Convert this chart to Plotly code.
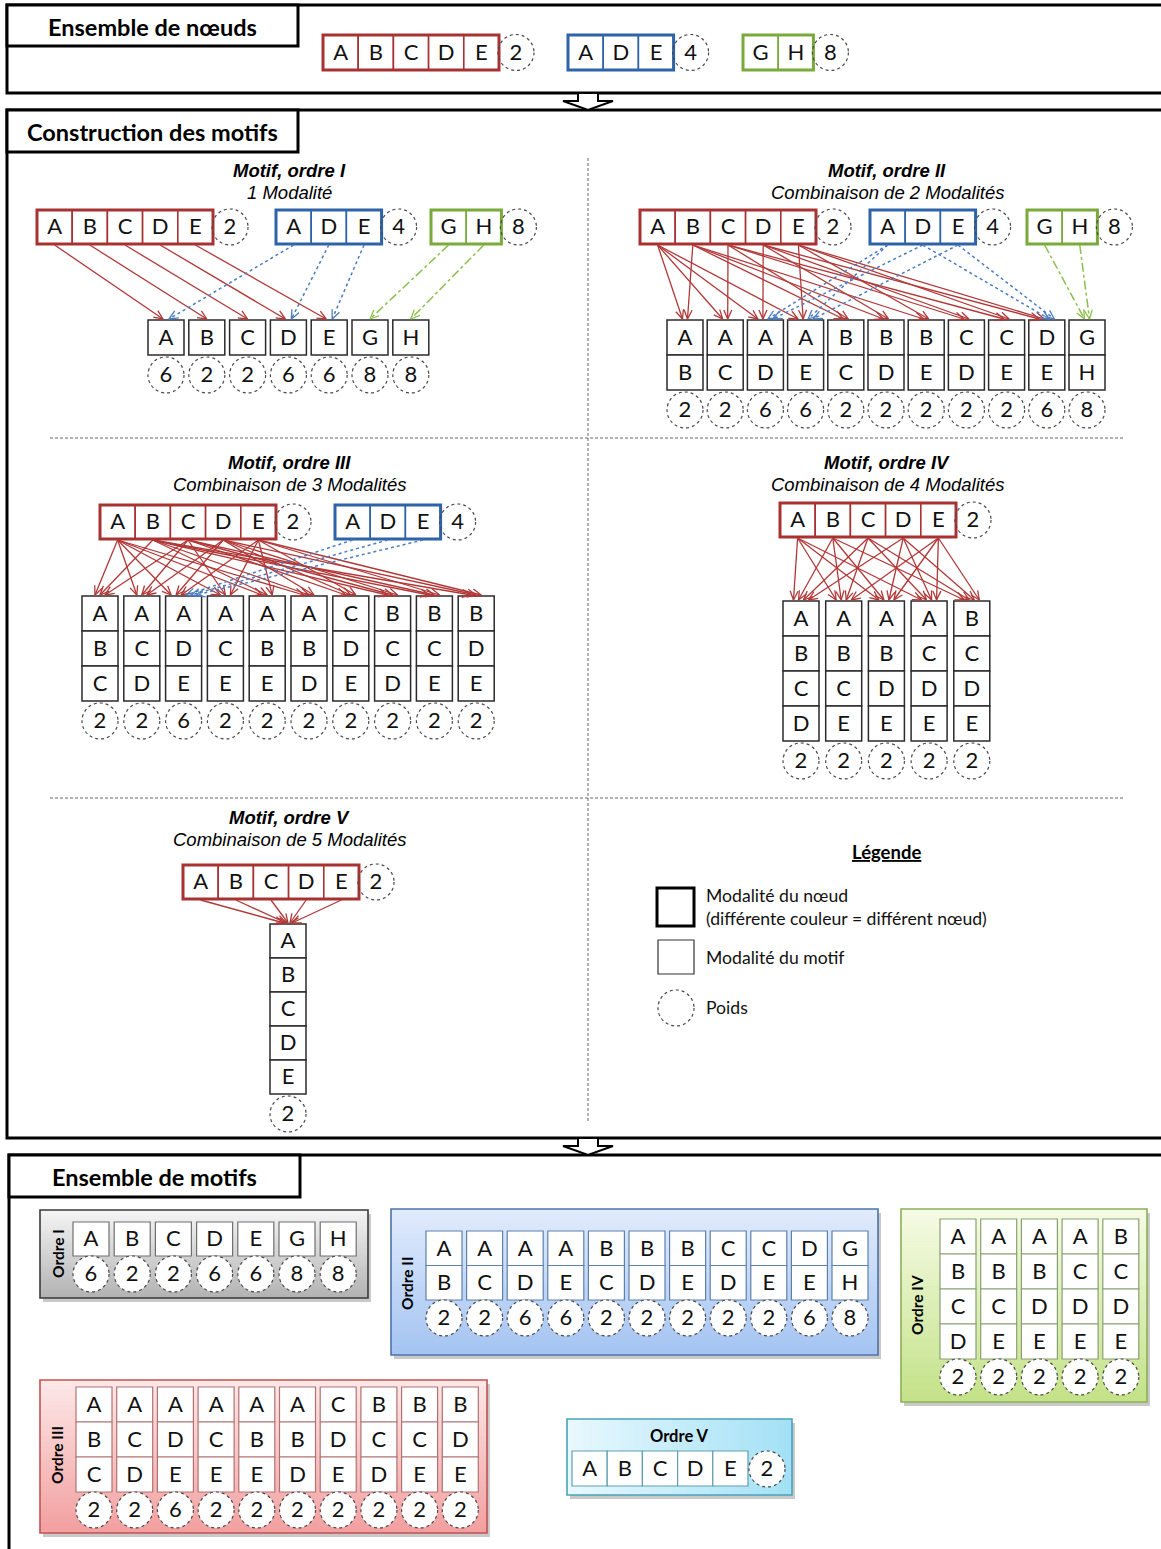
import math
import plotly.graph_objects as go

W, H = 1161, 1549

# ---------------- data ----------------
node_groups = [["A", "B", "C", "D", "E"], ["A", "D", "E"], ["G", "H"]]
node_weights = [2, 4, 8]

order_titles = ["Motif, ordre I", "Motif, ordre II", "Motif, ordre III", "Motif, ordre IV", "Motif, ordre V"]
order_subtitles = ["1 Modalité", "Combinaison de 2 Modalités", "Combinaison de 3 Modalités",
                   "Combinaison de 4 Modalités", "Combinaison de 5 Modalités"]
summary_labels = ["Ordre I", "Ordre II", "Ordre III", "Ordre IV", "Ordre V"]

motifs_1 = ["A", "B", "C", "D", "E", "G", "H"]
weights_1 = [6, 2, 2, 6, 6, 8, 8]
motifs_2 = ["AB", "AC", "AD", "AE", "BC", "BD", "BE", "CD", "CE", "DE", "GH"]
weights_2 = [2, 2, 6, 6, 2, 2, 2, 2, 2, 6, 8]
motifs_3 = ["ABC", "ACD", "ADE", "ACE", "ABE", "ABD", "CDE", "BCD", "BCE", "BDE"]
weights_3 = [2, 2, 6, 2, 2, 2, 2, 2, 2, 2]
motifs_4 = ["ABCD", "ABCE", "ABDE", "ACDE", "BCDE"]
weights_4 = [2, 2, 2, 2, 2]
motifs_5 = ["ABCDE"]
weights_5 = [2]

section_titles = ["Ensemble de nœuds", "Construction des motifs", "Ensemble de motifs"]
legend_title = "Légende"
legend_items = ["Modalité du nœud<br>(différente couleur = différent nœud)", "Modalité du motif", "Poids"]

# ---------------- styles ----------------
GROUP_COLORS = ["#a83232", "#2e63a8", "#79aa3b"]
ARROW_COLORS = ["#b23838", "#4a7dc2", "#8dbf4e"]
ARROW_DASH = ["solid", "dot", "dashdot"]
LETTER_FONT = "Lato"
TITLE_FONT = "Liberation Sans"
BW = 35.2  # node box width
TEXT_DY = 1.8  # visual centring of letters

shapes = []
annotations = []
let_x, let_y, let_t = [], [], []
arrow_lines = {g: ([], []) for g in range(3)}
arrow_heads = {g: ([], []) for g in range(3)}


def add_rect(x0, y0, x1, y1, color="#2b2b2b", width=1.5, fill="white", dash="solid"):
    shapes.append(dict(type="rect", xref="x", yref="y", x0=x0, y0=y0, x1=x1, y1=y1,
                       line=dict(color=color, width=width, dash=dash), fillcolor=fill, layer="below"))


def add_line(x0, y0, x1, y1, color="#555", width=1, dash="solid"):
    shapes.append(dict(type="line", xref="x", yref="y", x0=x0, y0=y0, x1=x1, y1=y1,
                       line=dict(color=color, width=width, dash=dash), layer="below"))


def add_circle(cx, cy, r=18, fill="rgba(0,0,0,0)", color="#4a4a4a"):
    shapes.append(dict(type="circle", xref="x", yref="y", x0=cx - r, y0=cy - r, x1=cx + r, y1=cy + r,
                       line=dict(color=color, width=1.2, dash="dot"), fillcolor=fill, layer="below"))


def add_letter(x, y, t):
    let_x.append(x)
    let_y.append(y + TEXT_DY)
    let_t.append(str(t))


def add_arrow(g, sx, sy, tx, ty):
    xs, ys = arrow_lines[g]
    xs += [sx, tx, None]
    ys += [sy, ty, None]
    dx, dy = tx - sx, ty - sy
    L = math.hypot(dx, dy)
    ux, uy = dx / L, dy / L
    bx, by = tx - 9 * ux, ty - 9 * uy
    px, py = -uy, ux
    hx, hy = arrow_heads[g]
    hx += [bx + 4 * px, tx, bx - 4 * px, None]
    hy += [by + 4 * py, ty, by - 4 * py, None]


def draw_group(gi, x0, y0, h=35, fill="white"):
    letters = node_groups[gi]
    col = GROUP_COLORS[gi]
    pos = {}
    for k, L in enumerate(letters):
        bx0 = x0 + k * BW
        add_rect(bx0, y0, bx0 + BW, y0 + h, color=col, width=1.6, fill=fill)
        add_letter(bx0 + BW / 2, y0 + h / 2, L)
        pos[L] = (bx0 + BW / 2, y0 + h)
    x1 = x0 + len(letters) * BW
    add_rect(x0, y0, x1, y0 + h, color=col, width=3, fill="rgba(0,0,0,0)")
    add_circle(x1 + 17, y0 + h / 2, 18)
    add_letter(x1 + 17, y0 + h / 2, node_weights[gi])
    return pos


def draw_columns(motifs, weights, cx0, dx, top, h, w=36, cell_color="#2b2b2b", cell_width=1.5,
                 circ_gap=20, circ_fill="rgba(0,0,0,0)"):
    for j, (m, wt) in enumerate(zip(motifs, weights)):
        cx = cx0 + j * dx
        for r, L in enumerate(m):
            add_rect(cx - w / 2, top + r * h, cx + w / 2, top + (r + 1) * h, color=cell_color,
                     width=cell_width)
            add_letter(cx, top + r * h + h / 2, L)
        cy = top + len(m) * h + circ_gap
        add_circle(cx, cy, 18, fill=circ_fill)
        add_letter(cx, cy, wt)


def hex2rgb(c):
    c = c.lstrip("#")
    return [int(c[i:i + 2], 16) for i in (0, 2, 4)]


def gradient_panel(x0, y0, x1, y1, c0, c1, border, horizontal=False, n=30):
    add_rect(x0 + 3, y0 + 4, x1 + 3, y1 + 4, color="rgba(0,0,0,0)", width=0, fill="#c9c9c9")
    a, b = hex2rgb(c0), hex2rgb(c1)
    for i in range(n):
        t = i / (n - 1)
        col = "rgb(%d,%d,%d)" % tuple(round(a[k] + (b[k] - a[k]) * t) for k in range(3))
        if horizontal:
            sx0 = x0 + (x1 - x0) * i / n
            sx1 = x0 + (x1 - x0) * (i + 1) / n + 0.6
            add_rect(sx0, y0, min(sx1, x1), y1, color="rgba(0,0,0,0)", width=0, fill=col)
        else:
            sy0 = y0 + (y1 - y0) * i / n
            sy1 = y0 + (y1 - y0) * (i + 1) / n + 0.6
            add_rect(x0, sy0, x1, min(sy1, y1), color="rgba(0,0,0,0)", width=0, fill=col)
    add_rect(x0, y0, x1, y1, color=border, width=1.6, fill="rgba(0,0,0,0)")


# ---------------- section frames ----------------
frames = [((7, 5, 1180, 93), (7, 5, 298, 46)),
          ((7, 110, 1180, 1138), (7, 110, 298, 152)),
          ((9, 1155, 1180, 1580), (9, 1155, 300, 1197))]
for (outer, tbox), title in zip(frames, section_titles):
    add_rect(*outer, color="black", width=3, fill="rgba(0,0,0,0)")
    add_rect(*tbox, color="black", width=3, fill="white")
    annotations.append(dict(x=(tbox[0] + tbox[2]) / 2, y=(tbox[1] + tbox[3]) / 2 + 1, xref="x", yref="y",
                            text="<b>%s</b>" % title, showarrow=False,
                            font=dict(family=LETTER_FONT, size=23.5, color="black")))

# block arrows between sections
for ytop in (93, 1138):
    path = "M 578 {a} L 598 {a} L 598 {b} L 613 {b} L 588 {c} L 563 {b} L 578 {b} Z".format(
        a=ytop, b=ytop + 8, c=ytop + 17)
    shapes.append(dict(type="path", path=path, xref="x", yref="y", fillcolor="white",
                       line=dict(color="black", width=2), layer="below"))

# ---------------- top: node set ----------------
for gi, x0 in zip(range(3), [323, 568, 743]):
    draw_group(gi, x0, 35)

# ---------------- construction panels ----------------
add_line(588, 158, 588, 1122, color="#666", width=1, dash="3px,2px")
add_line(50, 438, 1125, 438, color="#666", width=1, dash="3px,2px")
add_line(50, 798, 1125, 798, color="#666", width=1, dash="3px,2px")

construction = [
    dict(motifs=motifs_1, weights=weights_1, tx=289, ty=170,
         groups=[(0, 37, 210), (1, 276, 210), (2, 431, 210)], cx0=166, dx=40.8, top=320, h=35, spread=6),
    dict(motifs=motifs_2, weights=weights_2, tx=887, ty=170,
         groups=[(0, 640, 210), (1, 870, 210), (2, 1027, 210)], cx0=685, dx=40.2, top=320, h=35, spread=5),
    dict(motifs=motifs_3, weights=weights_3, tx=289, ty=462,
         groups=[(0, 100, 505), (1, 335, 505)], cx0=100, dx=41.8, top=596, h=35, spread=5),
    dict(motifs=motifs_4, weights=weights_4, tx=887, ty=462,
         groups=[(0, 780, 503)], cx0=801, dx=42.7, top=601, h=35, spread=5),
    dict(motifs=motifs_5, weights=weights_5, tx=289, ty=817,
         groups=[(0, 183, 865)], cx0=288, dx=0, top=924, h=34, spread=2),
]

for k, p in enumerate(construction):
    annotations.append(dict(x=p["tx"], y=p["ty"], xref="x", yref="y", showarrow=False,
                            text="<b><i>%s</i></b>" % order_titles[k],
                            font=dict(family=TITLE_FONT, size=18.5, color="black")))
    annotations.append(dict(x=p["tx"], y=p["ty"] + 22, xref="x", yref="y", showarrow=False,
                            text="<i>%s</i>" % order_subtitles[k],
                            font=dict(family=TITLE_FONT, size=18.5, color="black")))
    sources = []
    for gi, x0, y0 in p["groups"]:
        pos = draw_group(gi, x0, y0, h=34)
        for L, (sx, sy) in pos.items():
            sources.append((gi, L, sx, sy))
    draw_columns(p["motifs"], p["weights"], p["cx0"], p["dx"], p["top"], p["h"])
    for j, m in enumerate(p["motifs"]):
        cx = p["cx0"] + j * p["dx"]
        inc = [s for s in sources if s[1] in m and set(m) <= set(node_groups[s[0]])]
        inc.sort(key=lambda s: s[2])
        n = len(inc)
        for i, (gi, L, sx, sy) in enumerate(inc):
            tx = cx + (i - (n - 1) / 2) * p["spread"]
            add_arrow(gi, sx, sy + 1, tx, p["top"] - 1)

# ---------------- legend ----------------
annotations.append(dict(x=886, y=852, xref="x", yref="y", showarrow=False,
                        text="<span style='text-decoration:underline'><b>%s</b></span>" % legend_title,
                        font=dict(family=LETTER_FONT, size=18.5, color="black")))
add_rect(657, 888, 694, 926, color="black", width=3, fill="white")
add_rect(658, 940, 694, 974, color="#333", width=1.2, fill="white")
add_circle(676, 1008, 18)
for txt, yy in zip(legend_items, [907, 957, 1007]):
    annotations.append(dict(x=704, y=yy, xref="x", yref="y", showarrow=False, xanchor="left",
                            align="left", text=txt,
                            font=dict(family=LETTER_FONT, size=17.6, color="#111")))

# ---------------- summary panels ----------------
summary = [
    dict(motifs=motifs_1, weights=weights_1, box=(40, 1210, 368, 1298), c=("#f4f4f4", "#b3b3b3"),
         border="#3a3a3a", cell="#707070", cx0=91, dx=41.2, top=1222, h=34, lab=(58, 1254), li=0),
    dict(motifs=motifs_2, weights=weights_2, box=(391, 1209, 878, 1355), c=("#e0ebfc", "#a5c4f2"),
         border="#4d73a6", cell="#5f80aa", cx0=444, dx=40.6, top=1231, h=34.5, lab=(407, 1283), li=1),
    dict(motifs=motifs_4, weights=weights_4, box=(901, 1209, 1147, 1402), c=("#f5fbe4", "#c4e289"),
         border="#8caf58", cell="#8aa072", cx0=958, dx=40.7, top=1219, h=35, lab=(917, 1305), li=3),
    dict(motifs=motifs_3, weights=weights_3, box=(40, 1380, 487, 1533), c=("#fde7e7", "#f2a0a0"),
         border="#c05353", cell="#b27272", cx0=94, dx=40.7, top=1387, h=35, lab=(57, 1455), li=2),
]
for p in summary:
    gradient_panel(*p["box"], p["c"][0], p["c"][1], p["border"])
    draw_columns(p["motifs"], p["weights"], p["cx0"], p["dx"], p["top"], p["h"], w=36,
                 cell_color=p["cell"], cell_width=1.2, circ_gap=18, circ_fill="white")
    annotations.append(dict(x=p["lab"][0], y=p["lab"][1], xref="x", yref="y", showarrow=False,
                            textangle=-90, text="<b>%s</b>" % summary_labels[p["li"]],
                            font=dict(family=LETTER_FONT, size=15.5, color="black")))

# order V (horizontal)
gradient_panel(567, 1419, 792, 1495, "#e8f8fd", "#a4e1f6", "#4aa2ba", horizontal=True)
annotations.append(dict(x=679, y=1436, xref="x", yref="y", showarrow=False,
                        text="<b>%s</b>" % summary_labels[4],
                        font=dict(family=LETTER_FONT, size=16.5, color="black")))
for k, L in enumerate(motifs_5[0]):
    bx0 = 572 + k * BW
    add_rect(bx0, 1451, bx0 + BW, 1486, color="#5f9fb0", width=1.2, fill="white")
    add_letter(bx0 + BW / 2, 1468.5, L)
add_circle(572 + 5 * BW + 19, 1469, 18, fill="white")
add_letter(572 + 5 * BW + 19, 1469, weights_5[0])

# ---------------- traces ----------------
traces = []
widths = [1.3, 1.5, 1.5]
for g in range(3):
    xs, ys = arrow_lines[g]
    if xs:
        traces.append(go.Scatter(x=xs, y=ys, mode="lines", hoverinfo="skip", showlegend=False,
                                 line=dict(color=ARROW_COLORS[g], width=widths[g], dash=ARROW_DASH[g])))
    hx, hy = arrow_heads[g]
    if hx:
        traces.append(go.Scatter(x=hx, y=hy, mode="lines", hoverinfo="skip", showlegend=False,
                                 line=dict(color=ARROW_COLORS[g], width=1.3)))
traces.append(go.Scatter(x=let_x, y=let_y, text=let_t, mode="text", textposition="middle center",
                         hoverinfo="skip", showlegend=False,
                         textfont=dict(family=LETTER_FONT, size=22, color="#111")))

fig = go.Figure(traces)
fig.update_layout(
    width=W, height=H, margin=dict(l=0, r=0, t=0, b=0),
    paper_bgcolor="white", plot_bgcolor="white",
    xaxis=dict(range=[0, W], visible=False, fixedrange=True),
    yaxis=dict(range=[H, 0], visible=False, fixedrange=True),
    shapes=shapes, annotations=annotations,
)
fig.write_html("out.html", config={"displayModeBar": False, "staticPlot": True},
               post_script="document.body.style.margin='0px';")
